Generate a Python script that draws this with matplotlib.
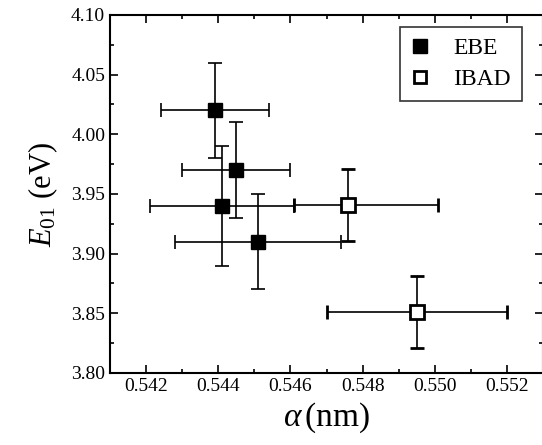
import numpy as np
import matplotlib
matplotlib.use("Agg")
import matplotlib.pyplot as plt
from matplotlib.ticker import MultipleLocator
from matplotlib.lines import Line2D

plt.rcParams['font.family'] = ['Liberation Serif', 'DejaVu Serif']
plt.rcParams['mathtext.fontset'] = 'custom'
plt.rcParams['mathtext.rm'] = 'Liberation Serif'
plt.rcParams['mathtext.it'] = 'Liberation Serif:italic'

# EBE samples
ebe_a = [0.5439, 0.5445, 0.5441, 0.5451]
ebe_e = [4.02, 3.97, 3.94, 3.91]
ebe_aerr = [0.0015, 0.0015, 0.0020, 0.0023]
ebe_eerr = [0.04, 0.04, 0.05, 0.04]

# IBAD samples (a error is lower, upper)
ibad_a = [0.5476, 0.5495]
ibad_e = [3.941, 3.851]
ibad_aerr = [[0.0015, 0.0025], [0.0025, 0.0025]]
ibad_eerr = [0.03, 0.03]

fig = plt.figure(figsize=(5.42, 4.45), dpi=100)
ax = fig.add_axes([110/542, 1 - 373/445, 433/542, 358/445])

ax.errorbar(ebe_a, ebe_e, xerr=ebe_aerr, yerr=ebe_eerr, fmt='s', color='black',
            ms=10, mfc='black', mec='black', ecolor='black', elinewidth=1.2,
            capsize=5, capthick=1.2)
ax.errorbar(ibad_a, ibad_e, xerr=ibad_aerr, yerr=ibad_eerr, fmt='s', color='black',
            ms=10, mfc='white', mec='black', mew=2, ecolor='black', elinewidth=1.2,
            capsize=5, capthick=1.2)

ax.set_xlim(0.541, 0.553)
ax.set_ylim(3.80, 4.10)
ax.xaxis.set_major_locator(MultipleLocator(0.002))
ax.xaxis.set_minor_locator(MultipleLocator(0.001))
ax.yaxis.set_major_locator(MultipleLocator(0.05))
ax.yaxis.set_minor_locator(MultipleLocator(0.025))
ax.xaxis.set_major_formatter(plt.FormatStrFormatter('%.3f'))
ax.yaxis.set_major_formatter(plt.FormatStrFormatter('%.2f'))
ax.tick_params(which='both', direction='in', top=True, right=True, labelsize=14, width=1.2)
ax.tick_params(which='major', length=6)
ax.tick_params(which='minor', length=3)
for s in ax.spines.values():
    s.set_linewidth(1.5)

ax.set_xlabel(r'$\mathit{\alpha}\,$(nm)', fontsize=24, labelpad=4)
ax.set_ylabel(r'$\mathit{E}_{\mathit{01}}$ (eV)', fontsize=22, labelpad=8)

handles = [Line2D([], [], ls='none', marker='s', ms=10, mfc='black', mec='black'),
           Line2D([], [], ls='none', marker='s', ms=9, mfc='white', mec='black', mew=2)]
leg = ax.legend(handles, ['EBE', 'IBAD'], loc='upper right', bbox_to_anchor=(0.951, 0.966),
                borderaxespad=0, fontsize=17, frameon=True, fancybox=False,
                edgecolor='black', handletextpad=1.0, borderpad=0.45,
                labelspacing=0.4, handlelength=0.8)
leg.get_frame().set_linewidth(1.2)

fig.savefig('out.png', dpi=100)
